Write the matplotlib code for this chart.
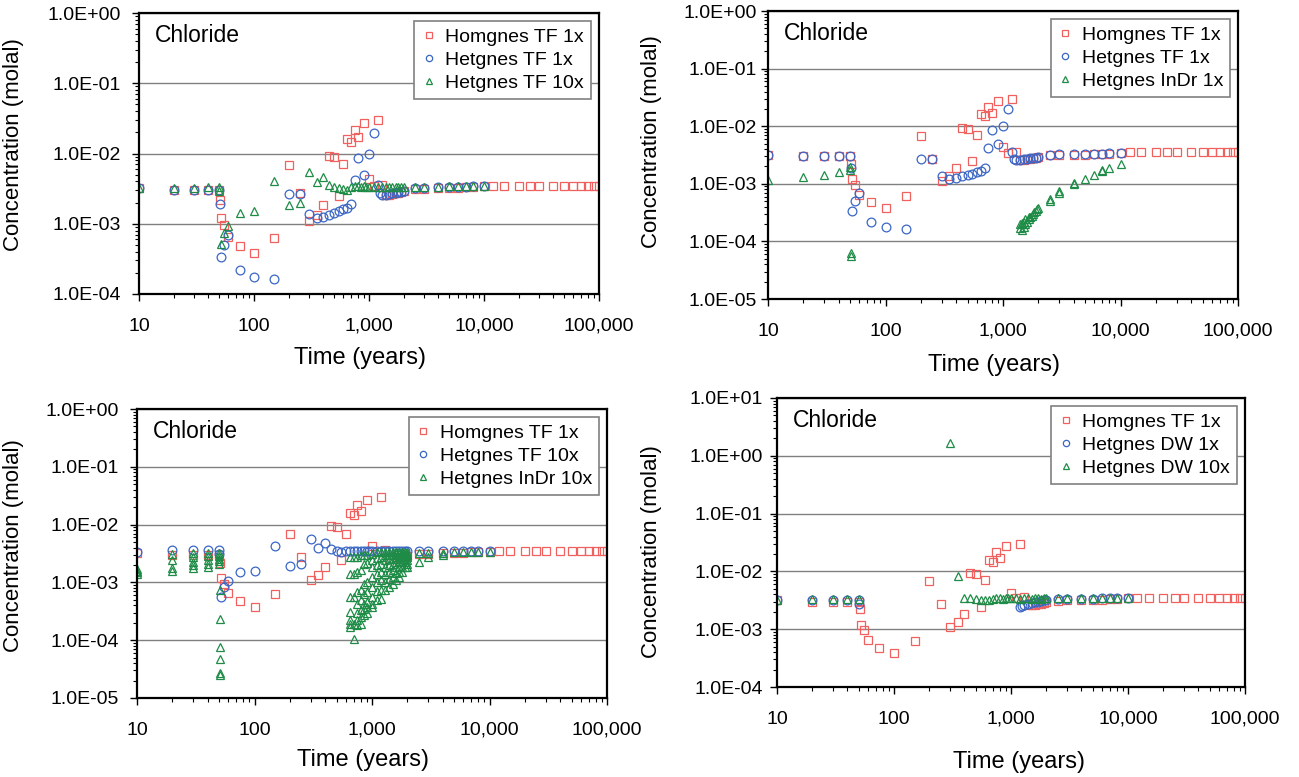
"""Chloride concentration vs time: four-panel comparison of flow/transport cases."""

import matplotlib
matplotlib.use("Agg")
import matplotlib.pyplot as plt
from matplotlib.ticker import FixedLocator, FuncFormatter, LogLocator, NullFormatter

plt.rcParams["font.family"] = ["Liberation Sans", "DejaVu Sans"]

RED = "#F0605E"
BLUE = "#3A66C4"
GREEN = "#1E8C46"

# ---------------------------------------------------------------------------
# Data (time in years, concentration in molal)
# ---------------------------------------------------------------------------

# Homgnes TF 1x -- reference case shown in every panel
homog_tf1_t = [10, 20, 30, 40, 50, 51, 52, 55, 60, 75, 100, 150,
               200, 250, 300, 350, 400, 450, 500, 550, 600, 650,
               700, 750, 800, 900, 1000, 1100, 1200,
               1300, 1400, 1500, 1600, 1700, 1800, 1900, 2000,
               2500, 3000, 4000, 5000, 6000, 7000, 8000, 10000,
               12000, 15000, 20000, 25000, 30000, 40000, 50000, 60000, 70000, 80000, 90000, 100000]
homog_tf1_c = [3.2e-3, 3.0e-3, 3.0e-3, 3.0e-3, 3.0e-3, 2.2e-3, 1.2e-3, 9.5e-4, 6.5e-4, 4.8e-4, 3.8e-4, 6.2e-4,
               6.8e-3, 2.7e-3, 1.1e-3, 1.35e-3, 1.85e-3, 9.3e-3, 9.0e-3, 2.45e-3, 7.0e-3, 1.6e-2,
               1.48e-2, 2.15e-2, 1.7e-2, 2.7e-2, 4.3e-3, 3.4e-3, 3.0e-2,
               3.6e-3, 2.6e-3, 2.6e-3, 2.65e-3, 2.7e-3, 2.75e-3, 2.8e-3, 2.9e-3,
               3.1e-3, 3.15e-3, 3.2e-3, 3.2e-3, 3.25e-3, 3.3e-3, 3.3e-3, 3.4e-3,
               3.5e-3, 3.5e-3, 3.5e-3, 3.5e-3, 3.5e-3, 3.5e-3, 3.5e-3, 3.5e-3, 3.5e-3, 3.5e-3, 3.5e-3, 3.5e-3]

# Hetgnes TF 1x (panels 1 and 2)
het_tf1_t = [10, 20, 30, 40, 50, 51, 52, 55, 60, 75, 100, 150,
             200, 250, 300, 350, 400, 450, 500, 550, 600, 650,
             700, 750, 800, 900, 1000, 1100, 1200, 1250,
             1300, 1400, 1500, 1600, 1700, 1800, 1900, 2000,
             2500, 3000, 4000, 5000, 6000, 7000, 8000, 10000]
het_tf1_c = [3.2e-3, 3.0e-3, 3.0e-3, 3.0e-3, 3.0e-3, 1.9e-3, 3.4e-4, 5.0e-4, 7.0e-4, 2.2e-4, 1.75e-4, 1.65e-4,
             2.65e-3, 2.65e-3, 1.37e-3, 1.22e-3, 1.25e-3, 1.35e-3, 1.42e-3, 1.5e-3, 1.6e-3, 1.7e-3,
             1.9e-3, 4.2e-3, 8.6e-3, 5.0e-3, 9.9e-3, 1.95e-2, 3.6e-3, 2.7e-3,
             2.6e-3, 2.6e-3, 2.65e-3, 2.7e-3, 2.75e-3, 2.8e-3, 2.85e-3, 2.9e-3,
             3.2e-3, 3.25e-3, 3.3e-3, 3.3e-3, 3.35e-3, 3.35e-3, 3.4e-3, 3.45e-3]

# Hetgnes TF 10x (panel 1)
het_tf10_t = [10, 20, 30, 40, 50, 50, 52, 55, 60, 75, 100, 150,
              200, 250, 300, 350, 400, 450, 500, 550, 600, 650,
              700, 750, 800, 850, 900, 950, 1000,
              1100, 1200, 1300, 1400, 1500, 1600, 1700, 1800, 1900, 2000,
              2500, 3000, 4000, 5000, 6000, 7000, 8000, 10000]
het_tf10_c = [3.2e-3, 3.25e-3, 3.25e-3, 3.3e-3, 3.3e-3, 2.9e-3, 5.2e-4, 7.5e-4, 9.3e-4, 1.4e-3, 1.5e-3, 4.0e-3,
              1.85e-3, 2.0e-3, 5.5e-3, 3.9e-3, 4.7e-3, 3.6e-3, 3.35e-3, 3.2e-3, 3.1e-3, 3.05e-3,
              3.3e-3, 3.4e-3, 3.4e-3, 3.35e-3, 3.4e-3, 3.35e-3, 3.35e-3,
              3.3e-3, 3.35e-3, 3.3e-3, 3.3e-3, 3.35e-3, 3.3e-3, 3.3e-3, 3.35e-3, 3.3e-3, 3.3e-3,
              3.3e-3, 3.35e-3, 3.35e-3, 3.4e-3, 3.4e-3, 3.4e-3, 3.4e-3, 3.45e-3]

# Hetgnes InDr 1x (panel 2)
het_indr1_t = [10, 20, 30, 40, 50, 50, 51, 51,
               1400, 1400, 1450, 1450, 1500, 1500, 1550, 1550, 1600, 1650, 1650,
               1700, 1750, 1800, 1850, 1900, 1950, 2000,
               2500, 2500, 3000, 3000, 4000, 4000, 5000, 6000, 7000, 7000, 8000, 10000]
het_indr1_c = [1.15e-3, 1.3e-3, 1.42e-3, 1.6e-3, 1.75e-3, 1.95e-3, 5.5e-5, 6.2e-5,
               1.7e-4, 2.0e-4, 1.6e-4, 2.1e-4, 1.8e-4, 2.2e-4, 2.0e-4, 2.4e-4, 2.2e-4, 2.4e-4, 2.7e-4,
               2.6e-4, 2.8e-4, 3.0e-4, 3.2e-4, 3.4e-4, 3.6e-4, 3.8e-4,
               5.0e-4, 5.5e-4, 7.0e-4, 7.6e-4, 1.0e-3, 1.05e-3, 1.22e-3, 1.45e-3, 1.65e-3, 1.75e-3, 1.9e-3, 2.25e-3]

# Hetgnes TF 10x (panel 3)
het_tf10b_t = het_tf10_t
het_tf10b_c = [3.3e-3, 3.6e-3, 3.6e-3, 3.6e-3, 3.6e-3, 3.1e-3, 5.6e-4, 8.3e-4, 1.04e-3, 1.5e-3, 1.57e-3, 4.2e-3,
               1.92e-3, 2.1e-3, 5.7e-3, 3.9e-3, 4.9e-3, 3.8e-3, 3.45e-3, 3.4e-3, 3.45e-3, 3.5e-3,
               3.5e-3, 3.55e-3, 3.5e-3, 3.5e-3, 3.55e-3, 3.5e-3, 3.55e-3,
               3.5e-3, 3.5e-3, 3.55e-3, 3.5e-3, 3.5e-3, 3.55e-3, 3.5e-3, 3.5e-3, 3.5e-3, 3.5e-3,
               3.45e-3, 3.45e-3, 3.5e-3, 3.5e-3, 3.5e-3, 3.5e-3, 3.5e-3, 3.55e-3]

# Hetgnes InDr 10x (panel 3)
het_indr10_t = [10, 10, 10, 10,
                20, 20, 20, 20,
                30, 30, 30, 30, 30,
                40, 40, 40, 40, 40,
                50, 50, 50, 50, 50,
                51, 51, 51, 51, 51, 51,
                650, 650, 650, 650, 650, 650, 650,
                700, 700, 700, 700, 700,
                750, 750, 750, 750, 750, 750, 750,
                800, 800, 800, 800, 800, 800, 800,
                850, 850, 850, 850, 850, 850, 850,
                900, 900, 900, 900, 900, 900, 900,
                1000, 1000, 1000, 1000, 1000, 1000, 1000, 1000,
                1100, 1100, 1100, 1100, 1100, 1100, 1100,
                1200, 1200, 1200, 1200, 1200, 1200, 1200,
                1300, 1300, 1300, 1300, 1300, 1300, 1300,
                1400, 1400, 1400, 1400, 1400, 1400, 1400,
                1500, 1500, 1500, 1500, 1500, 1500, 1500,
                1600, 1600, 1600, 1600, 1600, 1600, 1600,
                1700, 1700, 1700, 1700, 1700, 1700, 1700,
                1800, 1800, 1800, 1800, 1800, 1800, 1800,
                1900, 1900, 1900, 1900, 1900, 1900,
                2000, 2000, 2000, 2000, 2000, 2000, 2000,
                2500, 2500, 3000, 3000, 4000, 4000, 5000, 6000, 7000, 8000, 10000]
het_indr10_c = [1.4e-3, 1.5e-3, 1.6e-3, 1.7e-3,
                3.1e-3, 2.4e-3, 1.75e-3, 1.6e-3,
                3.2e-3, 2.75e-3, 2.25e-3, 2.0e-3, 1.75e-3,
                3.2e-3, 2.85e-3, 2.4e-3, 2.1e-3, 1.85e-3,
                3.2e-3, 2.9e-3, 2.55e-3, 2.3e-3, 2.05e-3,
                7.5e-4, 2.3e-4, 7.7e-5, 4.7e-5, 2.7e-5, 2.5e-5,
                2.75e-3, 1.41e-3, 5.6e-4, 3.1e-4, 2.2e-4, 1.9e-4, 1.7e-4,
                2.75e-3, 1.41e-3, 5.6e-4, 1.9e-4, 1.05e-4,
                2.75e-3, 1.51e-3, 6.8e-4, 4.3e-4, 2.9e-4, 2.2e-4, 1.8e-4,
                2.94e-3, 1.61e-3, 7.3e-4, 4.9e-4, 3.3e-4, 2.5e-4, 1.9e-4,
                2.94e-3, 2.11e-3, 9.5e-4, 6.4e-4, 4.3e-4, 3.5e-4, 2.7e-4,
                2.94e-3, 2.2e-3, 1.0e-3, 6.8e-4, 4.6e-4, 3.7e-4, 2.9e-4,
                3.14e-3, 2.41e-3, 1.85e-3, 1.24e-3, 8.3e-4, 5.6e-4, 4.3e-4, 3.7e-4,
                3.3e-3, 2.6e-3, 2.0e-3, 1.4e-3, 1.0e-3, 7.0e-4, 4.9e-4,
                3.36e-3, 2.75e-3, 2.11e-3, 1.51e-3, 1.08e-3, 7.3e-4, 5.2e-4,
                3.36e-3, 2.94e-3, 2.41e-3, 1.85e-3, 1.41e-3, 1.01e-3, 7.3e-4,
                3.36e-3, 2.94e-3, 2.5e-3, 2.0e-3, 1.5e-3, 1.15e-3, 8.3e-4,
                3.36e-3, 2.94e-3, 2.57e-3, 2.11e-3, 1.61e-3, 1.24e-3, 9.5e-4,
                3.36e-3, 3.06e-3, 2.7e-3, 2.25e-3, 1.85e-3, 1.45e-3, 1.1e-3,
                3.36e-3, 3.06e-3, 2.75e-3, 2.25e-3, 1.85e-3, 1.51e-3, 1.24e-3,
                3.36e-3, 3.14e-3, 2.86e-3, 2.57e-3, 2.25e-3, 1.85e-3, 1.5e-3,
                3.36e-3, 3.14e-3, 2.86e-3, 2.57e-3, 2.25e-3, 1.85e-3,
                3.36e-3, 3.14e-3, 2.94e-3, 2.75e-3, 2.41e-3, 2.11e-3, 1.85e-3,
                3.2e-3, 2.25e-3, 3.2e-3, 2.8e-3, 3.25e-3, 3.0e-3, 3.3e-3, 3.3e-3, 3.3e-3, 3.3e-3, 3.4e-3]

# Hetgnes DW 1x (panel 4)
het_dw1_t = [10, 20, 30, 40, 50, 50,
             1200, 1250, 1300, 1400, 1500, 1600, 1700, 1800, 1900, 2000,
             2500, 3000, 4000, 5000, 6000, 7000, 8000, 10000]
het_dw1_c = [3.2e-3, 3.2e-3, 3.25e-3, 3.25e-3, 3.25e-3, 2.7e-3,
             2.45e-3, 2.5e-3, 2.6e-3, 2.7e-3, 2.8e-3, 2.9e-3, 3.0e-3, 3.1e-3, 3.15e-3, 3.2e-3,
             3.3e-3, 3.3e-3, 3.35e-3, 3.35e-3, 3.4e-3, 3.4e-3, 3.4e-3, 3.45e-3]

# Hetgnes DW 10x (panel 4)
het_dw10_t = [10, 20, 30, 40, 50,
              300, 350, 400, 450, 500, 550, 600, 650, 700, 750, 800, 850, 900, 950, 1000,
              1100, 1200, 1300, 1400, 1500, 1600, 1700, 1800, 1900, 2000,
              2500, 3000, 4000, 5000, 6000, 7000, 8000, 10000]
het_dw10_c = [3.2e-3, 3.35e-3, 3.35e-3, 3.35e-3, 3.35e-3,
              1.66, 8.3e-3, 3.4e-3, 3.4e-3, 3.35e-3, 3.25e-3, 3.2e-3, 3.2e-3, 3.35e-3, 3.4e-3,
              3.4e-3, 3.35e-3, 3.4e-3, 3.4e-3, 3.4e-3,
              3.4e-3, 3.35e-3, 3.4e-3, 3.4e-3, 3.35e-3, 3.4e-3, 3.4e-3, 3.35e-3, 3.4e-3, 3.4e-3,
              3.4e-3, 3.4e-3, 3.45e-3, 3.45e-3, 3.45e-3, 3.45e-3, 3.45e-3, 3.5e-3]

x_ticks = [10, 100, 1000, 10000, 100000]


# ---------------------------------------------------------------------------
# Helpers
# ---------------------------------------------------------------------------


def style_axes(ax, ylim, ytick_pad, ylabel_xy, xlabel_xy):
    ax.set_xscale("log")
    ax.set_yscale("log")
    ax.set_xlim(10, 100000)
    ax.set_ylim(*ylim)

    ax.xaxis.set_major_locator(FixedLocator(x_ticks))
    ax.xaxis.set_major_formatter(FuncFormatter(lambda v, p: f"{v:,.0f}"))
    ax.xaxis.set_minor_locator(LogLocator(base=10, subs=range(2, 10), numticks=20))
    ax.xaxis.set_minor_formatter(NullFormatter())

    lo, hi = ylim
    decades = []
    v = lo
    while v <= hi * 1.001:
        decades.append(v)
        v *= 10
    ax.yaxis.set_major_locator(FixedLocator(decades))
    ax.yaxis.set_major_formatter(FuncFormatter(lambda v, p: f"{v:.1E}"))
    ax.yaxis.set_minor_locator(LogLocator(base=10, subs=range(2, 10), numticks=20))
    ax.yaxis.set_minor_formatter(NullFormatter())

    ax.tick_params(axis="both", which="major", direction="out", length=5, width=1,
                   labelsize=14, colors="black")
    ax.tick_params(axis="both", which="minor", direction="out", length=3, width=0.8)
    ax.tick_params(axis="x", which="major", pad=12)
    ax.tick_params(axis="y", which="major", pad=ytick_pad)

    ax.yaxis.grid(True, which="major", color="#808080", linewidth=1.0)
    ax.set_axisbelow(True)
    for sp in ax.spines.values():
        sp.set_linewidth(1.6)
        sp.set_color("black")

    ax.set_ylabel("Concentration (molal)", fontsize=16)
    ax.yaxis.set_label_coords(*ylabel_xy)
    ax.set_xlabel("Time (years)", fontsize=17)
    ax.xaxis.set_label_coords(*xlabel_xy)

    ax.annotate("Chloride", xy=(0, 1), xycoords="axes fraction", xytext=(16, -11),
                textcoords="offset pixels", ha="left", va="top", fontsize=16.5)


def scatter(ax, t, c, marker, color, label, ms):
    ax.plot(t, c, linestyle="none", marker=marker, markersize=ms, markerfacecolor="none",
            markeredgecolor=color, markeredgewidth=0.9, label=label)


def add_legend(ax):
    leg = ax.legend(loc="upper right", fontsize=14, frameon=True, fancybox=False,
                    edgecolor="#808080", framealpha=1, borderpad=0.35, labelspacing=0.28,
                    handlelength=0.8, handletextpad=0.45, borderaxespad=0.42, markerscale=0.72)
    leg.get_frame().set_linewidth(1.2)
    return leg


# ---------------------------------------------------------------------------
# Figure
# ---------------------------------------------------------------------------

W, H = 1299, 777
fig = plt.figure(figsize=(W / 100, H / 100), dpi=100)


def px_axes(left, top, right, bottom):
    return fig.add_axes([left / W, 1 - bottom / H, (right - left) / W, (bottom - top) / H])


ax1 = px_axes(139, 13, 599, 294)
ax2 = px_axes(768, 11, 1238, 299)
ax3 = px_axes(137, 409, 607, 698)
ax4 = px_axes(777, 398, 1245, 687)

SQ, CI, TR = 6.4, 6.3, 5.8

# Panel 1
scatter(ax1, homog_tf1_t, homog_tf1_c, "s", RED, "Homgnes TF 1x", SQ)
scatter(ax1, het_tf1_t, het_tf1_c, "o", BLUE, "Hetgnes TF 1x", CI)
scatter(ax1, het_tf10_t, het_tf10_c, "^", GREEN, "Hetgnes TF 10x", TR)
style_axes(ax1, (1e-4, 1e0), 8, (-0.25, 0.532), (0.48, -0.19))
add_legend(ax1)

# Panel 2
scatter(ax2, homog_tf1_t, homog_tf1_c, "s", RED, "Homgnes TF 1x", SQ)
scatter(ax2, het_tf1_t, het_tf1_c, "o", BLUE, "Hetgnes TF 1x", CI)
scatter(ax2, het_indr1_t, het_indr1_c, "^", GREEN, "Hetgnes InDr 1x", TR)
style_axes(ax2, (1e-5, 1e0), 3, (-0.226, 0.545), (0.48, -0.19))
add_legend(ax2)

# Panel 3
scatter(ax3, homog_tf1_t, homog_tf1_c, "s", RED, "Homgnes TF 1x", SQ)
scatter(ax3, het_tf10b_t, het_tf10b_c, "o", BLUE, "Hetgnes TF 10x", CI)
scatter(ax3, het_indr10_t, het_indr10_c, "^", GREEN, "Hetgnes InDr 10x", TR)
style_axes(ax3, (1e-5, 1e0), 8, (-0.24, 0.526), (0.48, -0.177))
add_legend(ax3)

# Panel 4
scatter(ax4, homog_tf1_t, homog_tf1_c, "s", RED, "Homgnes TF 1x", SQ)
scatter(ax4, het_dw1_t, het_dw1_c, "o", BLUE, "Hetgnes DW 1x", CI)
scatter(ax4, het_dw10_t, het_dw10_c, "^", GREEN, "Hetgnes DW 10x", TR)
style_axes(ax4, (1e-4, 1e1), 5, (-0.246, 0.47), (0.517, -0.22))
add_legend(ax4)

fig.savefig("out.png", dpi=100)
